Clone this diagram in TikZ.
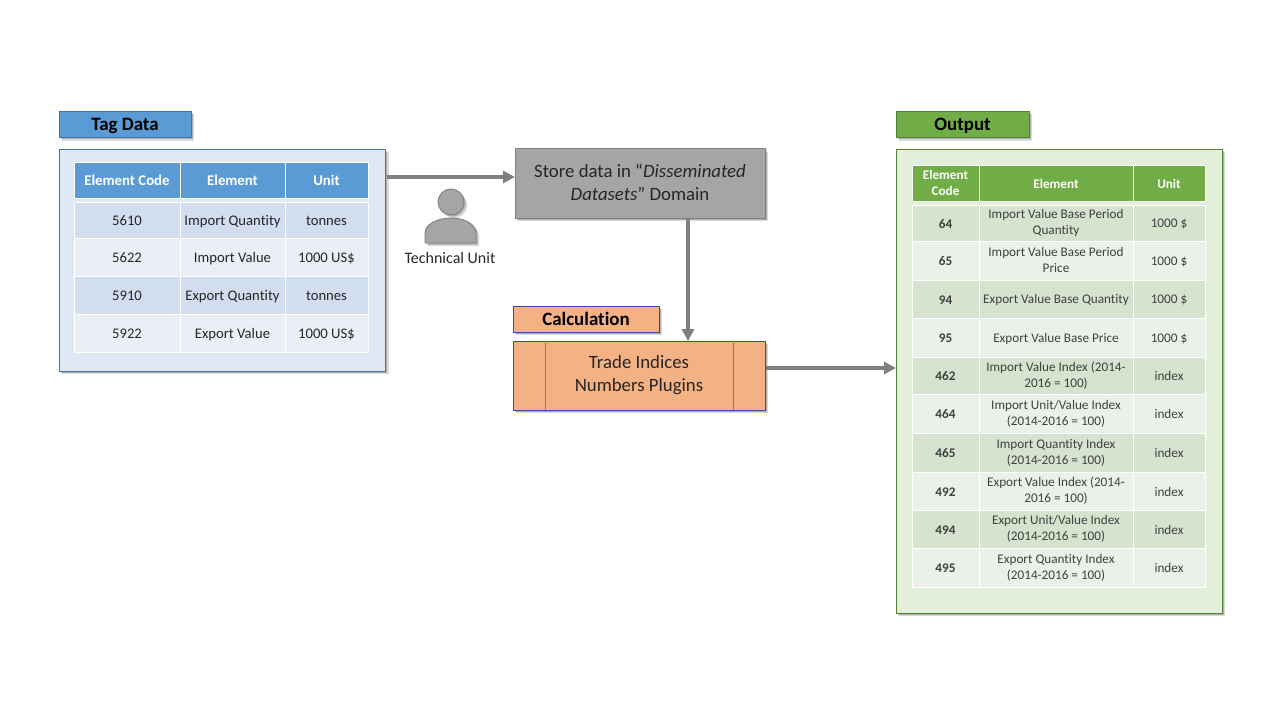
\documentclass[tikz,border=0pt]{standalone}
\usepackage{fontspec}
\setmainfont{Carlito}[Ligatures={TeX,NoCommon}]
\usetikzlibrary{arrows.meta,shadows}

\definecolor{tagblue}{HTML}{5B9BD5}
\definecolor{tagedge}{HTML}{3F74AC}
\definecolor{tagpanel}{HTML}{DEE9F5}
\definecolor{tagdark}{HTML}{D2DEEF}
\definecolor{taglight}{HTML}{EAEFF7}
\definecolor{outgreen}{HTML}{70AD47}
\definecolor{outedge}{HTML}{548235}
\definecolor{outpanel}{HTML}{E2EFDA}
\definecolor{outdark}{HTML}{D5E3CF}
\definecolor{outlight}{HTML}{EBF1E9}
\definecolor{calcfill}{HTML}{F4B183}
\definecolor{calcedge}{HTML}{2F5597}
\definecolor{storefill}{HTML}{A5A5A5}
\definecolor{flowgray}{HTML}{7F7F7F}
\definecolor{celltext}{HTML}{404040}

\tikzset{
    softshadow/.style={
        drop shadow={shadow xshift=1.2pt,shadow yshift=-1.2pt,fill=black,opacity=.2},
        drop shadow={shadow xshift=2.4pt,shadow yshift=-2.4pt,fill=black,opacity=.15}
    },
    tagbox/.style={draw=#1,line width=.7pt,inner sep=0pt,softshadow},
    titlefont/.style={text height=10.7pt,text depth=1.3pt,font=\fontsize{14.2}{16}\selectfont\bfseries},
    cell/.style={draw=white,line width=.6pt,inner sep=0pt,align=center},
    tagcell/.style={cell,text=black!85,text height=9.1pt,text depth=.9pt,font=\fontsize{11}{13}\selectfont},
    outcell/.style={cell,text=celltext,execute at begin node={\rule[-.7pt]{0pt}{9.2pt}},font=\fontsize{9.9}{12}\selectfont},
    flowline/.style={-{Triangle[length=9pt,width=9pt]},draw=flowgray,line width=2.6pt}
}

\begin{document}
\begin{tikzpicture}[
                    x=.75pt,
                    y=-.75pt
                ]
                \useasboundingbox (0,0) rectangle (1280,720);

                % left side
                \node (tagtitle) [tagbox=tagedge,titlefont,fill=tagblue,minimum width=99pt,minimum height=20pt] at (125,124.5) {Tag Data};
                \node (tagdata) [tagbox=tagedge,fill=tagpanel,minimum width=245pt,minimum height=166.5pt] at (222.5,260) {};

                \foreach \head/\xmid/\wide in {Element Code/127/106,Element/232.5/105,Unit/326.5/83}
                    \node (taghead\xmid) [tagcell,fill=tagblue,text=white,font=\fontsize{11.1}{13}\selectfont\bfseries,minimum width=\wide*.75pt,minimum height=27pt] at (\xmid,180) {\head};

                \foreach \ytop/\ybot/\rowfill/\code/\elem/\unit in {
                    202/238/tagdark/5610/Import Quantity/tonnes,
                    238/276/taglight/5622/Import Value/1000 US\$,
                    276/314/tagdark/5910/Export Quantity/tonnes,
                    314/352/taglight/5922/Export Value/1000 US\$}
                {
                    \node (tagcode\code) [tagcell,fill=\rowfill,minimum width=79.5pt,minimum height={(\ybot-\ytop)*.75pt}] at (127,{(\ytop+\ybot)/2}) {\code};
                    \node (tagelem\code) [tagcell,fill=\rowfill,minimum width=78.75pt,minimum height={(\ybot-\ytop)*.75pt}] at (232.5,{(\ytop+\ybot)/2}) {\elem};
                    \node (tagunit\code) [tagcell,fill=\rowfill,minimum width=62.25pt,minimum height={(\ybot-\ytop)*.75pt}] at (326.5,{(\ytop+\ybot)/2}) {\unit};
                }

                % middle
                \node (store) [tagbox=flowgray,fill=storefill,align=center,text=black!85,execute at end node={\rule[-1.5pt]{0pt}{0pt}},font=\fontsize{14.1}{17.25}\selectfont,minimum width=187.5pt,minimum height=52pt] at (640,183.5) {Store data in ``\textit{Disseminated}\\\textit{Datasets}'' Domain};

                \node (head) [circle,draw=flowgray,fill=storefill,line width=.7pt,inner sep=0pt,minimum size=19.5pt,softshadow] at (451,202) {};
                \draw [draw=flowgray,fill=storefill,line width=.7pt,softshadow] (425,243) -- (425,233) .. controls (425,224) and (438,218) .. (451,218) .. controls (464,218) and (476,224) .. (476,233) -- (476,243) -- cycle;
                \node (techunit) [text=black!85,font=\fontsize{12}{14}\selectfont] at (450,258) {Technical Unit};

                \node (calctitle) [tagbox=calcedge,titlefont,fill=calcfill,minimum width=109.5pt,minimum height=19.5pt] at (586,319) {Calculation};
                \node (plugins) [tagbox=calcedge,fill=calcfill,align=center,text=black!85,font=\fontsize{14.1}{17.25}\selectfont,minimum width=189pt,minimum height=51.75pt] at (639,375.5) {Trade Indices\\Numbers Plugins};
                \draw [draw=flowgray,line width=.7pt] (545,341) -- (545,410);
                \draw [draw=flowgray,line width=.7pt] (733,341) -- (733,410);

                % right side
                \node (outtitle) [tagbox=outedge,titlefont,fill=outgreen,minimum width=99.75pt,minimum height=20pt] at (962.5,124.5) {Output};
                \node (outdata) [tagbox=outedge,fill=outpanel,minimum width=244.5pt,minimum height=348pt] at (1059,381) {};

                \foreach \head/\xmid/\wide in {Element\\Code/945.5/67,Element/1056/154,Unit/1169/72}
                    \node (outhead\xmid) [outcell,fill=outgreen,text=white,font=\fontsize{9.9}{12}\selectfont\bfseries,minimum width=\wide*.75pt,minimum height=27pt] at (\xmid,183) {\head};

                \foreach \ytop/\ybot/\rowfill/\code/\elem/\unit in {
                    205/241/outdark/64/{Import Value Base Period\\Quantity}/1000 \$,
                    241/280/outlight/65/{Import Value Base Period\\Price}/1000 \$,
                    280/318/outdark/94/Export Value Base Quantity/1000 \$,
                    318/357/outlight/95/Export Value Base Price/1000 \$,
                    357/394/outdark/462/{Import Value Index (2014-\\2016 = 100)}/index,
                    394/433/outlight/464/{Import Unit/Value Index\\(2014-2016 = 100)}/index,
                    433/472/outdark/465/{Import Quantity Index\\(2014-2016 = 100)}/index,
                    472/510/outlight/492/{Export Value Index (2014-\\2016 = 100)}/index,
                    510/548/outdark/494/{Export Unit/Value Index\\(2014-2016 = 100)}/index,
                    548/587/outlight/495/{Export Quantity Index\\(2014-2016 = 100)}/index}
                {
                    \node (outcode\code) [outcell,fill=\rowfill,font=\fontsize{9.9}{12}\selectfont\bfseries,minimum width=50.25pt,minimum height={(\ybot-\ytop)*.75pt}] at (945.5,{(\ytop+\ybot)/2}) {\code};
                    \node (outelem\code) [outcell,fill=\rowfill,minimum width=115.5pt,minimum height={(\ybot-\ytop)*.75pt}] at (1056,{(\ytop+\ybot)/2}) {\elem};
                    \node (outunit\code) [outcell,fill=\rowfill,minimum width=54pt,minimum height={(\ybot-\ytop)*.75pt}] at (1169,{(\ytop+\ybot)/2}) {\unit};
                }

                % connectors
                \coordinate (tagexit) at (387,177);
                \coordinate (storein) at (515,177);
                \coordinate (storeexit) at (688,219);
                \coordinate (pluginsin) at (688,341);
                \coordinate (pluginsexit) at (766,368);
                \coordinate (outin) at (896,368);

                \path
                (tagexit) edge [flowline] (storein)
                (storeexit) edge [flowline] (pluginsin)
                (pluginsexit) edge [flowline] (outin)
                ;
            \end{tikzpicture}
\end{document}
